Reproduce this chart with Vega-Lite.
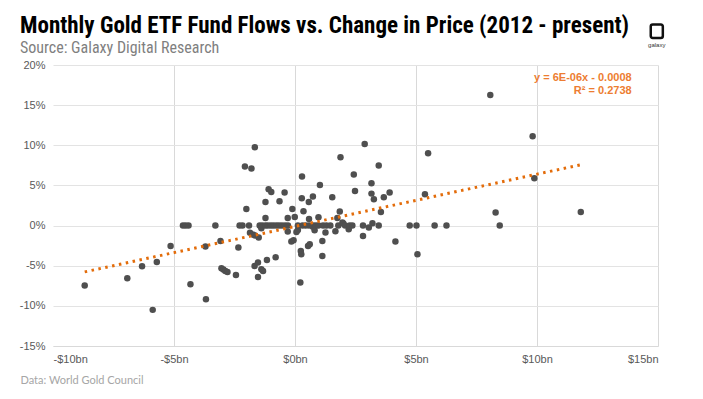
{
  "$schema": "https://vega.github.io/schema/vega-lite/v6.json",
  "autosize": {"type": "none"},
  "padding": {"left": 53, "top": 65, "right": 45, "bottom": 53},
  "width": 605,
  "height": 281,
  "background": "#ffffff",
  "config": {"view": {"stroke": null}},
  "title": {
    "text": "Monthly Gold ETF Fund Flows vs. Change in Price (2012 - present)",
    "subtitle": "Source: Galaxy Digital Research",
    "anchor": "start",
    "frame": "group",
    "dx": -33,
    "dy": 50,
    "offset": 14,
    "font": "Liberation Sans Narrow, Roboto Condensed, Arial Narrow, Liberation Sans",
    "fontSize": 23,
    "fontWeight": "bold",
    "color": "#000000",
    "subtitleFont": "Liberation Sans Narrow, Roboto Condensed, Arial Narrow, Liberation Sans",
    "subtitleFontSize": 16,
    "subtitleColor": "#7f7f7f",
    "subtitlePadding": 2
  },
  "datasets": {
    "flows": [
      {"flow": -8.69, "change": -7.46}, {"flow": -6.93, "change": -6.56}, {"flow": -6.32, "change": -5.07},
      {"flow": -5.71, "change": -4.53}, {"flow": -5.88, "change": -10.5}, {"flow": -5.14, "change": -2.54},
      {"flow": -4.63, "change": 0}, {"flow": -4.52, "change": 0}, {"flow": -4.40, "change": 0},
      {"flow": -4.32, "change": -7.31}, {"flow": -3.70, "change": -2.62}, {"flow": -3.68, "change": -9.18},
      {"flow": -3.29, "change": 0}, {"flow": -3.08, "change": -1.91}, {"flow": -3.04, "change": -5.32},
      {"flow": -2.96, "change": -5.48}, {"flow": -2.88, "change": -5.65}, {"flow": -2.79, "change": -5.78},
      {"flow": -2.44, "change": -6.15}, {"flow": -2.34, "change": -2.74}, {"flow": -2.29, "change": 0},
      {"flow": -2.17, "change": 0}, {"flow": -2.07, "change": 7.35}, {"flow": -2.01, "change": 2.07},
      {"flow": -1.90, "change": 0}, {"flow": -1.80, "change": 7.1}, {"flow": -1.86, "change": -0.9},
      {"flow": -1.74, "change": -1.1}, {"flow": -1.66, "change": 9.75}, {"flow": -1.65, "change": -1.25},
      {"flow": -1.67, "change": -5.03}, {"flow": -1.53, "change": -4.61}, {"flow": -1.39, "change": -5.44},
      {"flow": -1.32, "change": -5.65}, {"flow": -1.53, "change": -6.40}, {"flow": -1.16, "change": -4.28},
      {"flow": -0.80, "change": -3.95}, {"flow": -1.50, "change": -1.5}, {"flow": -1.46, "change": 0},
      {"flow": -1.35, "change": 0}, {"flow": -1.39, "change": -0.34}, {"flow": -1.22, "change": 0},
      {"flow": -1.12, "change": 0}, {"flow": -1.0, "change": 0}, {"flow": -0.89, "change": 0},
      {"flow": -0.77, "change": 0}, {"flow": -0.66, "change": 0}, {"flow": -0.54, "change": 0},
      {"flow": -0.41, "change": 0}, {"flow": -0.29, "change": 0}, {"flow": -1.22, "change": 0.95},
      {"flow": -1.22, "change": 2.94}, {"flow": -1.09, "change": 4.52}, {"flow": -0.98, "change": 4.19},
      {"flow": -0.64, "change": 3.03}, {"flow": -0.43, "change": 4.11}, {"flow": -0.30, "change": 0.95},
      {"flow": -0.30, "change": -0.75}, {"flow": -0.15, "change": -1.99}, {"flow": -0.06, "change": -1.83},
      {"flow": -0.11, "change": 2.07}, {"flow": -0.01, "change": 1.07}, {"flow": 0.06, "change": -0.8},
      {"flow": 0.12, "change": -0.55}, {"flow": 0.12, "change": 0}, {"flow": 0.24, "change": -3.16},
      {"flow": 0.26, "change": -3.57}, {"flow": 0.22, "change": -7.1}, {"flow": 0.29, "change": 6.1},
      {"flow": 0.28, "change": 3.40}, {"flow": 0.31, "change": 0}, {"flow": 0.35, "change": 1.78},
      {"flow": 0.44, "change": 0}, {"flow": 0.54, "change": -2.54}, {"flow": 0.61, "change": -2.33},
      {"flow": 0.57, "change": 2.94}, {"flow": 0.58, "change": 0.82}, {"flow": 0.58, "change": 0},
      {"flow": 0.74, "change": 3.61}, {"flow": 0.74, "change": 0}, {"flow": 0.74, "change": -0.15},
      {"flow": 0.81, "change": -0.59}, {"flow": 0.86, "change": 0}, {"flow": 0.97, "change": 1.03},
      {"flow": 0.97, "change": 0}, {"flow": 1.03, "change": 5.06}, {"flow": 1.13, "change": -1.91},
      {"flow": 1.13, "change": -3.78}, {"flow": 1.16, "change": 0}, {"flow": 1.26, "change": -0.87},
      {"flow": 1.30, "change": 0}, {"flow": 1.46, "change": 0}, {"flow": 1.54, "change": 3.52},
      {"flow": 1.67, "change": -0.72}, {"flow": 1.75, "change": 0.95}, {"flow": 1.79, "change": 0},
      {"flow": 1.85, "change": 1.74}, {"flow": 1.88, "change": 8.5}, {"flow": 1.96, "change": 0.37},
      {"flow": 2.0, "change": 0.25}, {"flow": 2.07, "change": 0}, {"flow": 2.22, "change": -0.46},
      {"flow": 2.26, "change": 0}, {"flow": 2.37, "change": 0}, {"flow": 2.43, "change": 6.35},
      {"flow": 2.48, "change": 4.31}, {"flow": 2.81, "change": 0}, {"flow": 2.81, "change": -1.30},
      {"flow": 2.88, "change": 10.16}, {"flow": 3.05, "change": -0.25}, {"flow": 3.16, "change": 5.27},
      {"flow": 3.16, "change": 3.98}, {"flow": 3.20, "change": 0.29}, {"flow": 3.26, "change": 3.28},
      {"flow": 3.46, "change": 7.47}, {"flow": 3.46, "change": 0}, {"flow": 3.55, "change": 1.70},
      {"flow": 3.67, "change": 3.52}, {"flow": 3.91, "change": 4.11}, {"flow": 4.15, "change": -1.99},
      {"flow": 4.74, "change": 0}, {"flow": 5.02, "change": 0}, {"flow": 5.06, "change": -3.57},
      {"flow": 5.37, "change": 3.9}, {"flow": 5.50, "change": 9.0}, {"flow": 5.77, "change": 0},
      {"flow": 6.26, "change": 0}, {"flow": 8.07, "change": 16.27}, {"flow": 8.29, "change": 1.62},
      {"flow": 8.46, "change": 0}, {"flow": 9.82, "change": 11.12}, {"flow": 9.89, "change": 5.89},
      {"flow": 11.81, "change": 1.70}
    ],
    "note": [{"flow": 13.91, "change": 18.4, "label": "y = 6E-06x - 0.0008\nR² = 0.2738"}],
    "logo": [{"flow": 14.95, "change": 24.2, "label": "galaxy"}]
  },
  "layer": [
    {
      "data": {"name": "flows"},
      "mark": {"type": "circle", "size": 42, "color": "#4f4f4f", "opacity": 1},
      "encoding": {
        "x": {
          "field": "flow", "type": "quantitative",
          "scale": {"domain": [-10, 15], "nice": false, "zero": false},
          "axis": {
            "values": [-10, -5, 0, 5, 10, 15],
            "labelExpr": "(datum.value < 0 ? '-' : '') + '$' + abs(datum.value) + 'bn'",
            "title": "Data: World Gold Council",
            "titleX": -33, "titleY": 37, "titleAlign": "left", "titleAnchor": "start",
            "titleBaseline": "alphabetic",
            "titleFont": "Lato", "titleFontSize": 11, "titleFontWeight": "normal", "titleColor": "#a6a6a6",
            "labelFont": "Liberation Sans", "labelFontSize": 11, "labelColor": "#595959",
            "labelPadding": 7, "ticks": false, "tickSize": 0,
            "domain": true, "domainColor": "#d9d9d9", "domainWidth": 1,
            "grid": true, "gridColor": {"condition": {"test": "datum.value === -10", "value": "transparent"}, "value": "#d9d9d9"},
            "gridWidth": 1
          }
        },
        "y": {
          "field": "change", "type": "quantitative",
          "scale": {"domain": [-15, 20], "nice": false, "zero": false},
          "axis": {
            "values": [-15, -10, -5, 0, 5, 10, 15, 20],
            "labelExpr": "datum.value + '%'",
            "title": null,
            "labelFont": "Liberation Sans", "labelFontSize": 11, "labelColor": "#595959",
            "labelPadding": 8, "ticks": false, "tickSize": 0, "domain": false,
            "grid": true, "gridColor": "#e3e3e3", "gridWidth": 1
          }
        }
      }
    },
    {
      "data": {"name": "flows"},
      "transform": [{"regression": "change", "on": "flow"}],
      "mark": {"type": "line", "color": "#E36C0A", "strokeWidth": 3, "strokeDash": [2.5, 4.5]},
      "encoding": {
        "x": {"field": "flow", "type": "quantitative"},
        "y": {"field": "change", "type": "quantitative"}
      }
    },
    {
      "data": {"name": "note"},
      "mark": {"type": "text", "align": "right", "baseline": "middle", "lineBreak": "\n", "lineHeight": 13,
               "font": "Liberation Sans", "fontSize": 11, "fontWeight": "bold", "color": "#ED7D31"},
      "encoding": {
        "x": {"field": "flow", "type": "quantitative"},
        "y": {"field": "change", "type": "quantitative"},
        "text": {"field": "label"}
      }
    },
    {
      "data": {"name": "logo"},
      "mark": {"type": "point", "filled": false, "color": "#111111", "opacity": 1, "strokeWidth": 2.5, "size": 180,
               "shape": "M -0.6 -1 L 0.6 -1 Q 0.9 -1 0.9 -0.7 L 0.9 0.7 Q 0.9 1 0.6 1 L -0.6 1 Q -0.9 1 -0.9 0.7 L -0.9 -0.7 Q -0.9 -1 -0.6 -1 Z"},
      "encoding": {
        "x": {"field": "flow", "type": "quantitative"},
        "y": {"field": "change", "type": "quantitative"}
      }
    },
    {
      "data": {"name": "logo"},
      "mark": {"type": "text", "align": "center", "baseline": "top", "dy": 11, "font": "Liberation Sans", "fontSize": 6, "color": "#333333"},
      "encoding": {
        "x": {"field": "flow", "type": "quantitative"},
        "y": {"field": "change", "type": "quantitative"},
        "text": {"field": "label"}
      }
    }
  ]
}
